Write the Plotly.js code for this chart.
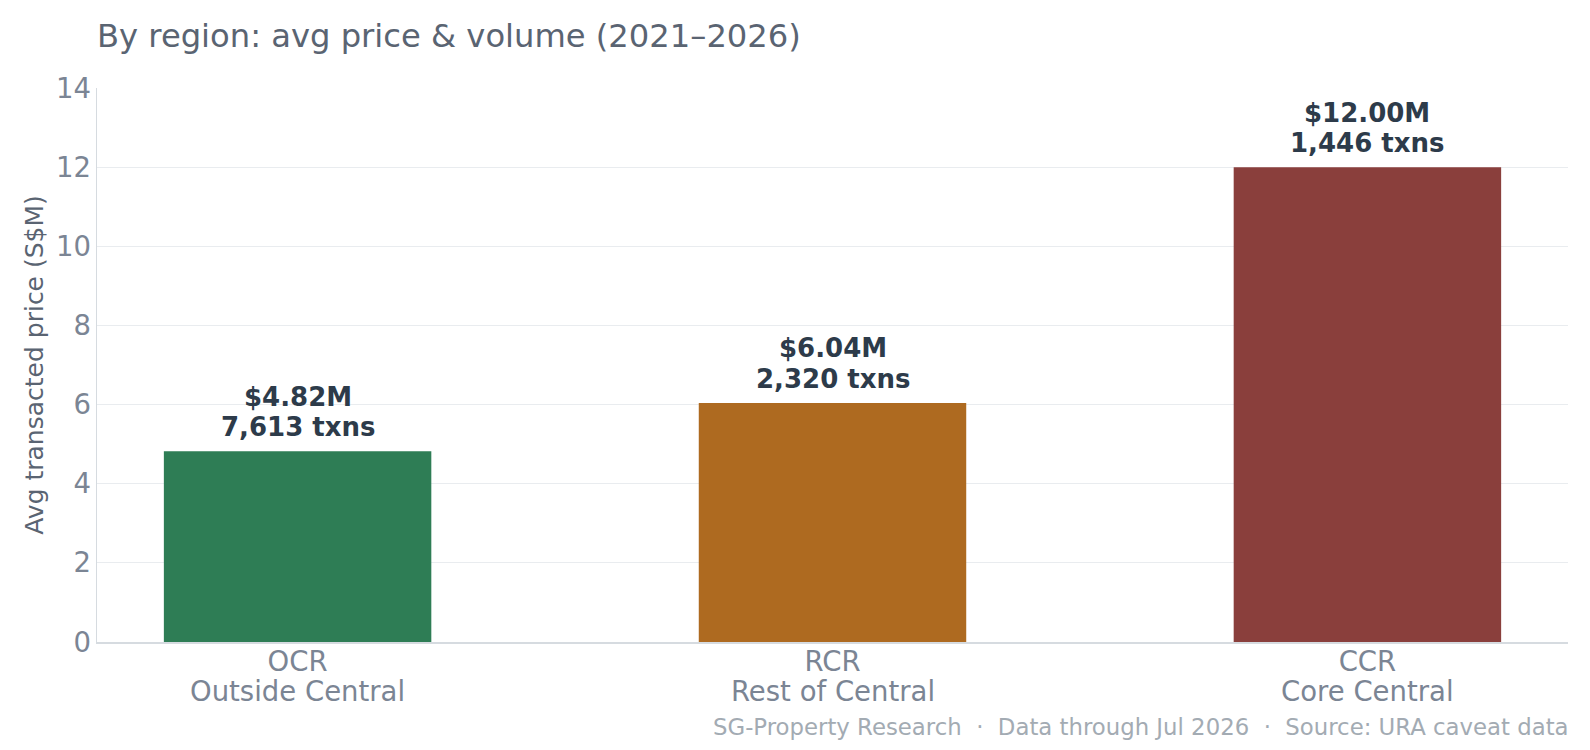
<!DOCTYPE html>
<html>
<head>
<meta charset="utf-8">
<script src="https://cdn.plot.ly/plotly-3.0.1.min.js"></script>
<style>html,body{margin:0;padding:0;background:#fff;}#chart{width:1590px;height:750px;}</style>
</head>
<body>
<div id="chart"></div>
<script>
const regionCodes = ['OCR', 'RCR', 'CCR'];
const regionNames = ['Outside Central', 'Rest of Central', 'Core Central'];
const avgPriceM = [4.82, 6.04, 12.00];
const txnCounts = [7613, 2320, 1446];
const barColors = ['#2e7d55', '#ae6a20', '#8a3f3c'];
const yTicks = [0, 2, 4, 6, 8, 10, 12, 14];

const font = 'DejaVu Sans, Verdana, sans-serif';
const labelFont = {family: font, size: 26, color: '#2d3b4a', weight: 'bold'};

const trace = {
  type: 'bar',
  x: regionCodes,
  y: avgPriceM,
  marker: {color: barColors, line: {width: 0}},
  width: 0.5,
  cliponaxis: false,
  hoverinfo: 'skip'
};

const annotations = [];
regionCodes.forEach((c, i) => {
  annotations.push({
    x: c, y: avgPriceM[i], xref: 'x', yref: 'y',
    text: '$' + avgPriceM[i].toFixed(2) + 'M',
    showarrow: false, yanchor: 'middle', yshift: 54.5,
    font: labelFont
  });
  annotations.push({
    x: c, y: avgPriceM[i], xref: 'x', yref: 'y',
    text: txnCounts[i].toLocaleString('en-US') + ' txns',
    showarrow: false, yanchor: 'middle', yshift: 24,
    font: labelFont
  });
  annotations.push({
    x: c, y: 0, xref: 'x', yref: 'paper',
    text: regionNames[i],
    showarrow: false, yanchor: 'middle', yshift: -49,
    font: {family: font, size: 27.5, color: '#7b8594'}
  });
});
annotations.push({
  text: 'SG-Property Research  ·  Data through Jul 2026  ·  Source: URA caveat data',
  xref: 'paper', yref: 'paper',
  x: 1.0, xanchor: 'right', xshift: 3,
  y: -(727 - 642) / (642 - 88), yanchor: 'middle',
  showarrow: false,
  font: {family: font, size: 22.8, color: '#a3abb3'}
});

const layout = {
  width: 1590,
  height: 750,
  paper_bgcolor: '#ffffff',
  plot_bgcolor: '#ffffff',
  margin: {l: 97, r: 22, t: 88, b: 108},
  showlegend: false,
  font: {family: font},
  title: {
    text: 'By region: avg price & volume (2021–2026)',
    font: {family: font, size: 32.2, color: '#5a6472'},
    x: 0, xref: 'paper', xanchor: 'left',
    y: 1 - 36 / 750, yref: 'container', yanchor: 'middle'
  },
  xaxis: {
    type: 'category',
    range: [-0.375, 2.375],
    showgrid: false,
    showline: true,
    linecolor: '#d6dbe0',
    linewidth: 1.5,
    ticks: '',
    ticklabelstandoff: -6,
    tickfont: {family: font, size: 27.5, color: '#7b8594'},
    zeroline: false
  },
  yaxis: {
    range: [0, 14],
    tickvals: yTicks,
    ticktext: yTicks.map(String),
    showgrid: true,
    gridcolor: '#e9ecef',
    gridwidth: 1,
    showline: true,
    linecolor: '#d6dbe0',
    linewidth: 1.5,
    zeroline: false,
    ticks: '',
    ticklabelstandoff: -1,
    tickfont: {family: font, size: 27.5, color: '#7b8594'},
    title: {
      text: 'Avg transacted price (S$M)',
      font: {family: font, size: 25, color: '#5a6472'},
      standoff: 5
    }
  },
  annotations: annotations
};

Plotly.newPlot('chart', [trace], layout, {displayModeBar: false, staticPlot: true});
</script>
</body>
</html>
